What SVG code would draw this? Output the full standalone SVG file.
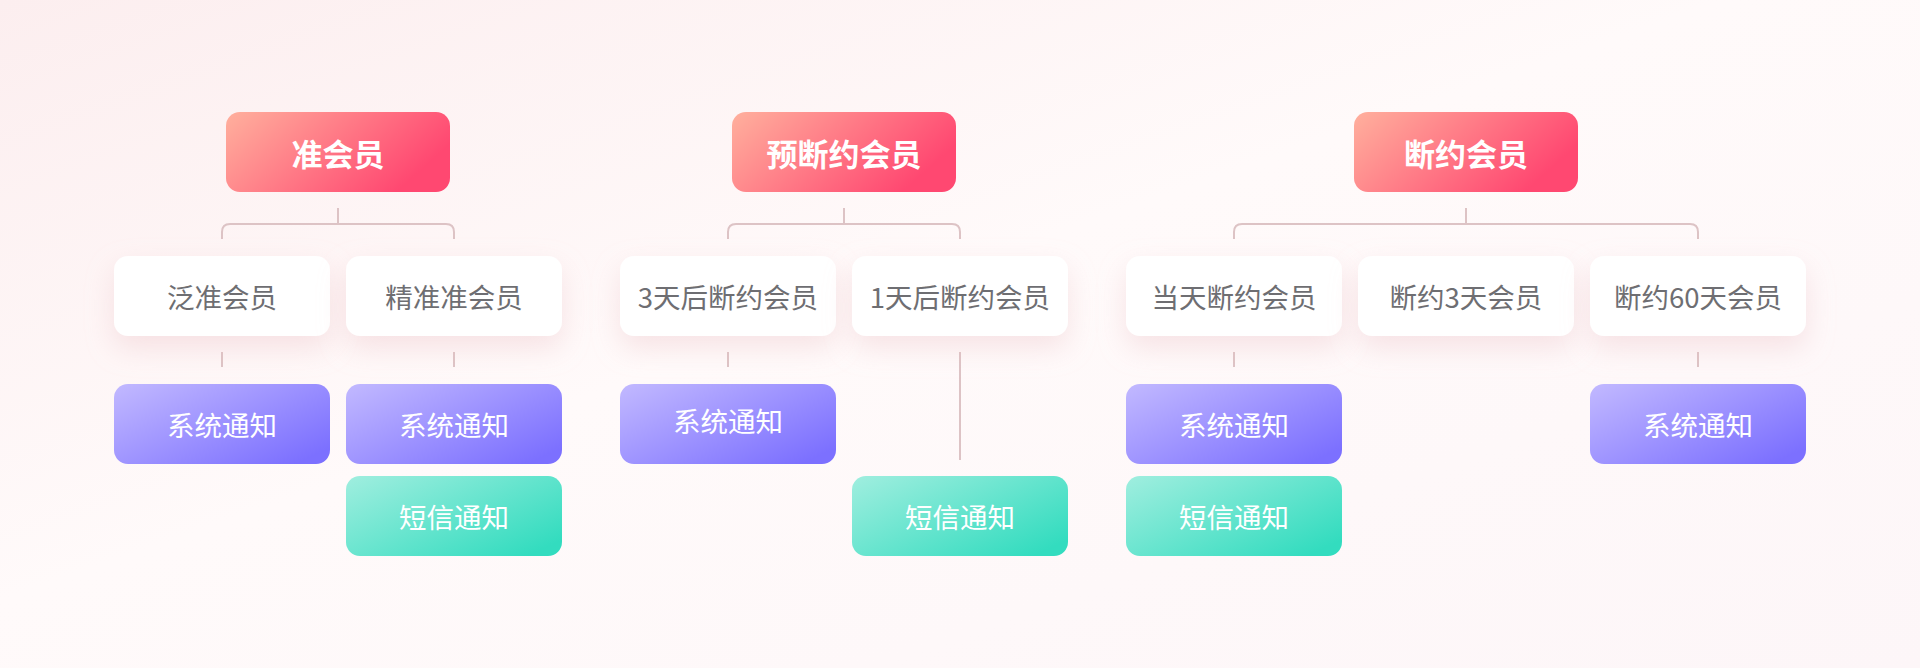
<svg xmlns="http://www.w3.org/2000/svg" width="1920" height="668" viewBox="0 0 1920 668">
<defs>
<linearGradient id="bg" x1="0" y1="0" x2="1" y2="1">
<stop offset="0" stop-color="#FCEEEF"/>
<stop offset="0.45" stop-color="#FFFAFA"/>
<stop offset="1" stop-color="#FDF6F8"/>
</linearGradient>
<linearGradient id="gRed" x1="0" y1="0" x2="1" y2="0.4">
<stop offset="0" stop-color="#FFB09D"/>
<stop offset="1" stop-color="#FF4871"/>
</linearGradient>
<linearGradient id="gPur" x1="0" y1="0" x2="1" y2="0.8">
<stop offset="0" stop-color="#C2B9FF"/>
<stop offset="1" stop-color="#7C70FF"/>
</linearGradient>
<linearGradient id="gTeal" x1="0" y1="0" x2="1" y2="0.8">
<stop offset="0" stop-color="#A0EEDF"/>
<stop offset="1" stop-color="#33DCBF"/>
</linearGradient>
<filter id="sh" x="-30%" y="-40%" width="160%" height="200%">
<feDropShadow dx="0" dy="12" stdDeviation="14" flood-color="#E8B9BE" flood-opacity="0.35"/>
</filter>
</defs>
<style>
.par{fill:url(#gRed)}
.chi{fill:#FFFFFF;filter:url(#sh)}
.pur{fill:url(#gPur)}
.teal{fill:url(#gTeal)}
.tp{font-family:"Noto Sans CJK SC","Noto Sans",sans-serif;font-size:31px;font-weight:700;fill:#FFFFFF;text-anchor:middle;dominant-baseline:central}
.tc{font-family:"Noto Sans CJK SC","Noto Sans",sans-serif;font-size:27.5px;fill:#6E6E72;text-anchor:middle;dominant-baseline:central}
.tn{font-family:"Noto Sans CJK SC","Noto Sans",sans-serif;font-size:27.5px;fill:#FFFFFF;text-anchor:middle;dominant-baseline:central}
.ln{fill:none;stroke:#DDC3C5;stroke-width:2}
</style>
<rect x="0" y="0" width="1920" height="668" fill="url(#bg)"/>

<g id="connectors">
<path class="ln" d="M338 208V224M222 239V232Q222 224 230 224H446Q454 224 454 232V239"/>
<path class="ln" d="M222 352V367M454 352V367"/>
<path class="ln" d="M844 208V224M728 239V232Q728 224 736 224H952Q960 224 960 232V239"/>
<path class="ln" d="M728 352V367M960 352V460"/>
<path class="ln" d="M1466 208V224M1234 239V232Q1234 224 1242 224H1690Q1698 224 1698 232V239"/>
<path class="ln" d="M1234 352V367M1698 352V367"/>
</g>

<g id="n-zhunhuiyuan"><rect class="par" x="226" y="112" width="224" height="80" rx="14"/><text class="tp" x="338" y="152">准会员</text></g>
<g id="n-fanzhun"><rect class="chi" x="114" y="256" width="216" height="80" rx="14"/><text class="tc" x="222" y="296">泛准会员</text></g>
<g id="n-jingzhun"><rect class="chi" x="346" y="256" width="216" height="80" rx="14"/><text class="tc" x="454" y="296">精准准会员</text></g>
<g id="n-sys1"><rect class="pur" x="114" y="384" width="216" height="80" rx="14"/><text class="tn" x="222" y="424">系统通知</text></g>
<g id="n-sys2"><rect class="pur" x="346" y="384" width="216" height="80" rx="14"/><text class="tn" x="454" y="424">系统通知</text></g>
<g id="n-sms2"><rect class="teal" x="346" y="476" width="216" height="80" rx="14"/><text class="tn" x="454" y="516">短信通知</text></g>

<g id="n-yuduanyue"><rect class="par" x="732" y="112" width="224" height="80" rx="14"/><text class="tp" x="844" y="152">预断约会员</text></g>
<g id="n-3tianhou"><rect class="chi" x="620" y="256" width="216" height="80" rx="14"/><text class="tc" x="728" y="296">3天后断约会员</text></g>
<g id="n-1tianhou"><rect class="chi" x="852" y="256" width="216" height="80" rx="14"/><text class="tc" x="960" y="296">1天后断约会员</text></g>
<g id="n-sys3"><rect class="pur" x="620" y="384" width="216" height="80" rx="14"/><text class="tn" x="728" y="420">系统通知</text></g>
<g id="n-sms4"><rect class="teal" x="852" y="476" width="216" height="80" rx="14"/><text class="tn" x="960" y="516">短信通知</text></g>

<g id="n-duanyue"><rect class="par" x="1354" y="112" width="224" height="80" rx="14"/><text class="tp" x="1466" y="152">断约会员</text></g>
<g id="n-dangtian"><rect class="chi" x="1126" y="256" width="216" height="80" rx="14"/><text class="tc" x="1234" y="296">当天断约会员</text></g>
<g id="n-3tian"><rect class="chi" x="1358" y="256" width="216" height="80" rx="14"/><text class="tc" x="1466" y="296">断约3天会员</text></g>
<g id="n-60tian"><rect class="chi" x="1590" y="256" width="216" height="80" rx="14"/><text class="tc" x="1698" y="296">断约60天会员</text></g>
<g id="n-sys5"><rect class="pur" x="1126" y="384" width="216" height="80" rx="14"/><text class="tn" x="1234" y="424">系统通知</text></g>
<g id="n-sms5"><rect class="teal" x="1126" y="476" width="216" height="80" rx="14"/><text class="tn" x="1234" y="516">短信通知</text></g>
<g id="n-sys7"><rect class="pur" x="1590" y="384" width="216" height="80" rx="14"/><text class="tn" x="1698" y="424">系统通知</text></g>
</svg>
